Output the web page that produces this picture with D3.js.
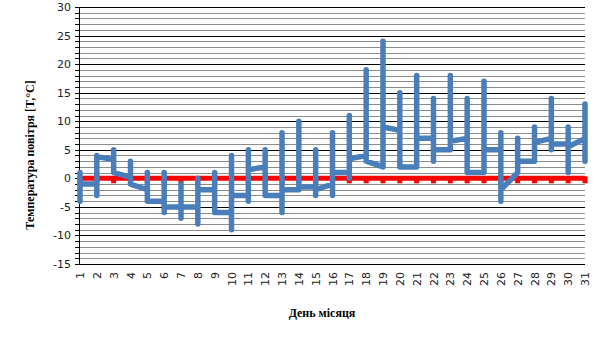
<!DOCTYPE html>
<html>
<head>
<meta charset="utf-8">
<script src="https://cdn.jsdelivr.net/npm/d3@7"></script>
<style>
  body { margin: 0; background: #fff; }
  svg { display: block; }
  .tick-label { font-family: "DejaVu Sans", sans-serif; font-size: 11px; fill: #222; }
  .title { font-family: "Liberation Serif", serif; font-weight: bold; font-size: 12px; fill: #000; }
</style>
</head>
<body>
<div id="chart"></div>
<script>
// ---------------- data ----------------
const days = d3.range(1, 32);
// daily range (min / max) and the values where the line enters / leaves each day
const tMin = [-4, -3, 1, -1, -4, -6, -7, -8, -6, -9, -4, -3, -6, -2, -3, -3, 0, 3, 2, 2, 2, 3, 5, 1, 1, -4, 1, 3, 5, 1, 3];
const tMax = [1, 4, 5, 3, 1, 1, -1, 0, 1, 4, 5, 5, 8, 10, 5, 8, 11, 19, 24, 15, 18, 14, 18, 14, 17, 8, 7, 9, 14, 9, 13];
const tIn  = [-1, -1, 3.3, 0.2, -2, -4, -5, -5, -2, -6, -3, 2, -3, -2, -1.5, -1, 1, 4, 2, 8.4, 2, 7, 5, 7, 1, 5, 1, 3, 7, 6, 7];
const tOut = [-1, 3.8, 1, -1, -4, -5, -5, -2, -6, -3, 1.5, -3, -2, -1.5, -2, 1, 3.4, 3, 9, 2, 7, 5, 6.5, 1, 5, -2, 3, 6.3, 6, 5.5, 7];
const zeroLine = days.map(() => 0);
const yTicks = d3.range(-15, 31, 5);

// ---------------- setup ----------------
const width = 605, height = 340;
const margin = { top: 7, right: 20, bottom: 76, left: 80 };

const svg = d3.select("#chart").append("svg")
  .attr("width", width)
  .attr("height", height);

const x = d3.scalePoint()
  .domain(days)
  .range([margin.left, width - margin.right]);

const y = d3.scaleLinear()
  .domain([-15, 30])
  .range([height - margin.bottom, margin.top]);

// ---------------- grid ----------------
const minor = d3.range(-15, 31, 1);
svg.append("g")
  .selectAll("line")
  .data(minor.filter((d) => d % 5 !== 0))
  .enter()
  .append("line")
  .attr("x1", margin.left)
  .attr("x2", width - margin.right)
  .attr("y1", (d) => Math.round(y(d)) + 0.5)
  .attr("y2", (d) => Math.round(y(d)) + 0.5)
  .attr("stroke", "#8c8c8c")
  .attr("stroke-width", 1);

svg.append("g")
  .selectAll("line")
  .data(yTicks)
  .enter()
  .append("line")
  .attr("x1", margin.left)
  .attr("x2", width - margin.right)
  .attr("y1", (d) => Math.round(y(d)) + 0.5)
  .attr("y2", (d) => Math.round(y(d)) + 0.5)
  .attr("stroke", "#000")
  .attr("stroke-width", 1);

// ---------------- y axis ----------------
const yAxis = svg.append("g");
yAxis.append("line")
  .attr("x1", margin.left - 0.5)
  .attr("x2", margin.left - 0.5)
  .attr("y1", y(30))
  .attr("y2", y(-15) + 0.5)
  .attr("stroke", "#000");

yAxis.selectAll(".ytick")
  .data(minor)
  .enter()
  .append("line")
  .attr("x1", margin.left - 5)
  .attr("x2", margin.left)
  .attr("y1", (d) => Math.round(y(d)) + 0.5)
  .attr("y2", (d) => Math.round(y(d)) + 0.5)
  .attr("stroke", "#000");

yAxis.selectAll("text")
  .data(yTicks)
  .enter()
  .append("text")
  .attr("class", "tick-label")
  .attr("x", margin.left - 9)
  .attr("y", (d) => y(d) + 4)
  .attr("text-anchor", "end")
  .text((d) => d);

// ---------------- x axis labels ----------------
svg.append("g")
  .selectAll("text")
  .data(days)
  .enter()
  .append("text")
  .attr("class", "tick-label")
  .attr("transform", (d) => `translate(${x(d) + 4}, ${y(-15) + 8}) rotate(-90)`)
  .attr("text-anchor", "end")
  .text((d) => d);

// ---------------- zero line (red) ----------------
const line0 = d3.line()
  .x((d, i) => x(days[i]))
  .y((d) => y(d));

svg.append("path")
  .datum(zeroLine)
  .attr("d", line0)
  .attr("fill", "none")
  .attr("stroke", "#ff0000")
  .attr("stroke-width", 5);

svg.append("g")
  .selectAll("rect")
  .data(zeroLine)
  .enter()
  .append("rect")
  .attr("x", (d, i) => x(days[i]) - 2.5)
  .attr("y", (d) => y(d) - 2)
  .attr("width", 5)
  .attr("height", 7)
  .attr("fill", "#ff0000");

// ---------------- temperature line ----------------
const pts = [];
days.forEach((d, i) => {
  pts.push([d, tIn[i]]);
  pts.push([d, tMax[i]]);
  pts.push([d, tMin[i]]);
  pts.push([d, tOut[i]]);
});

const tempLine = d3.line()
  .x((d) => x(d[0]))
  .y((d) => y(d[1]));

svg.append("path")
  .datum(pts)
  .attr("d", tempLine)
  .attr("fill", "none")
  .attr("stroke", "#4a7ebb")
  .attr("stroke-width", 5.5)
  .attr("stroke-linejoin", "round")
  .attr("stroke-linecap", "round");

// ---------------- titles ----------------
svg.append("text")
  .attr("class", "title")
  .attr("transform", "translate(34, 155) rotate(-90)")
  .attr("text-anchor", "middle")
  .text("Температура повітря [T,°C]");

svg.append("text")
  .attr("class", "title")
  .attr("x", 322)
  .attr("y", 317)
  .attr("text-anchor", "middle")
  .text("День місяця");
</script>
</body>
</html>
